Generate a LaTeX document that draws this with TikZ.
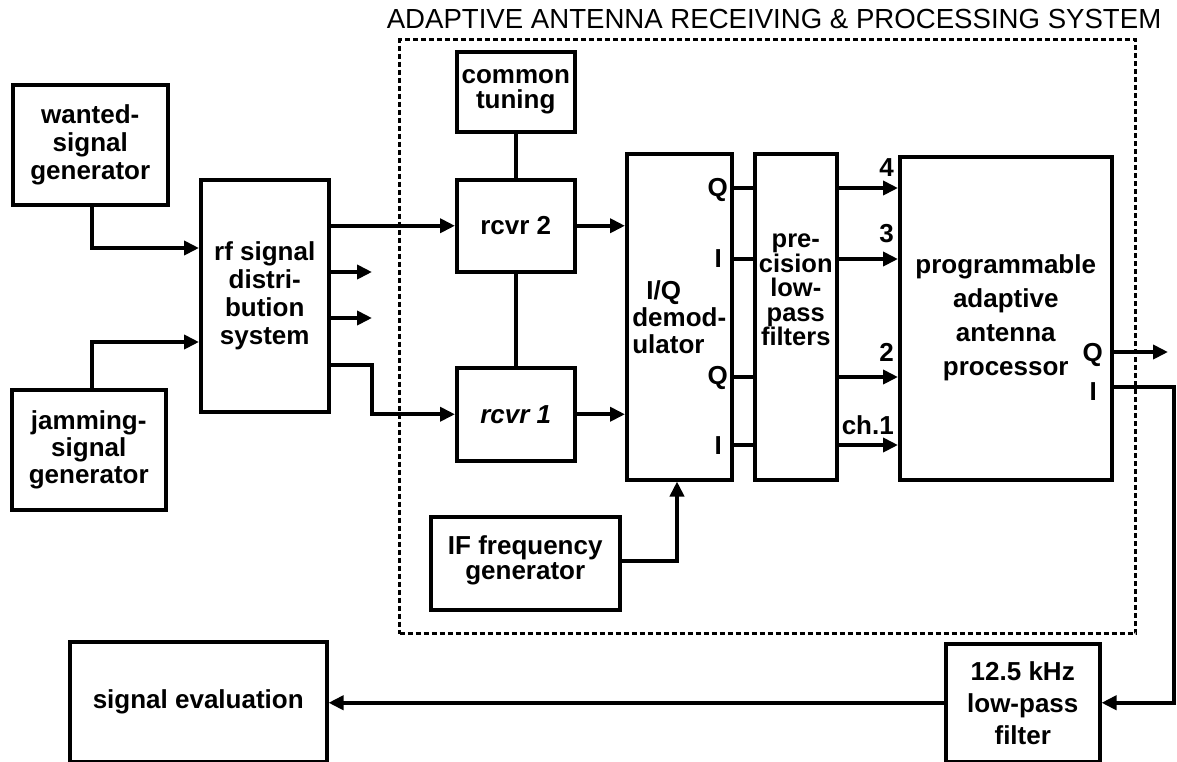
\documentclass[tikz,border=0pt]{standalone}
\usepackage{fontspec}
\setmainfont{Liberation Sans}
\usetikzlibrary{arrows.meta,calc}
\begin{document}
\begin{tikzpicture}[x=1pt,y=-1pt,
  box/.style={draw, line width=3.5pt, anchor=north west, inner sep=0pt, align=center,
              font=\fontsize{26}{28}\selectfont\bfseries},
  conn/.style={line width=4pt},
  arr/.style={conn, -{Triangle[length=15pt,width=14pt]}},
  lbl/.style={inner sep=0pt, font=\fontsize{26}{28}\selectfont\bfseries},
  sysframe/.style={draw, line width=3pt, dash pattern=on 5pt off 3pt, anchor=north west, inner sep=0pt}]
\useasboundingbox (0,0) rectangle (1177,761);

% title and system frame
\node[anchor=base, inner sep=0pt, font=\fontsize{27.6}{30}\selectfont] (title) at (774,28)
  {ADAPTIVE ANTENNA RECEIVING \& PROCESSING SYSTEM};
\node[sysframe, minimum width=736pt, minimum height=594pt] (sys) at (398,38) {};

% boxes
\node[box, minimum width=155pt, minimum height=120pt] (wanted) at (11,83) {wanted-\\signal\\generator};
\node[box, minimum width=154pt, minimum height=120pt, font=\fontsize{26}{27}\selectfont\bfseries] (jamming) at (10,388) {jamming-\\signal\\generator};
\node[box, minimum width=128pt, minimum height=232pt] (rf) at (199,178) {rf signal\\distri-\\bution\\system};
\node[box, minimum width=118pt, minimum height=80pt, font=\fontsize{26}{25}\selectfont\bfseries] (common) at (455,50) {common\\tuning};
\node[box, minimum width=118pt, minimum height=92pt] (rcvr2) at (455,178) {rcvr 2};
\node[box, minimum width=118pt, minimum height=93pt, font=\fontsize{26}{28}\selectfont\bfseries\itshape] (rcvr1) at (455,366) {rcvr 1};
\node[box, minimum width=105pt, minimum height=326pt, align=left, font=\fontsize{26}{27}\selectfont\bfseries] (iq) at (625,152) {\hspace*{14pt}I/Q\\demod-\\ulator};
\node[box, minimum width=82pt, minimum height=326pt, font=\fontsize{25.5}{24.5}\selectfont\bfseries] (filt) at (753,152) {pre-\\cision\\low-\\pass\\filters\rule[-54pt]{0pt}{0pt}};
\node[box, minimum width=212pt, minimum height=323pt, font=\fontsize{26}{34}\selectfont\bfseries] (proc) at (898,155) {programmable\\adaptive\\antenna\\processor};
\node[box, minimum width=189pt, minimum height=93pt, font=\fontsize{26}{25}\selectfont\bfseries] (ifbox) at (429,515) {IF frequency\\generator\rule[-12pt]{0pt}{0pt}};
\node[box, minimum width=154pt, minimum height=118pt, font=\fontsize{26}{32}\selectfont\bfseries] (lp) at (944,642) {12.5 kHz\\low-pass\\filter};
\node[box, minimum width=257pt, minimum height=120pt] (sigeval) at (68,640) {signal evaluation};

% port labels
\node[lbl, anchor=base east] (iqq2) at (728,196) {Q};
\node[lbl, anchor=base east] (iqi2) at (722,267) {I};
\node[lbl, anchor=base east] (iqq1) at (728,384) {Q};
\node[lbl, anchor=base east] (iqi1) at (722,454) {I};
\node[lbl, anchor=base east] (pq) at (1103,361) {Q};
\node[lbl, anchor=base east] (pi) at (1097,400) {I};
\node[lbl, anchor=base east] (ch4) at (894,176) {4};
\node[lbl, anchor=base east] (ch3) at (894,242) {3};
\node[lbl, anchor=base east] (ch2) at (894,361) {2};
\node[lbl, anchor=base east] (ch1) at (894,434) {ch.1};

% helper coordinates
\coordinate (xw) at (92,248);
\coordinate (xj) at (92,342);
\coordinate (s1) at (372,272);
\coordinate (s2) at (372,318);
\coordinate (b1) at (372,365);
\coordinate (c4) at (0,188);
\coordinate (c3) at (0,259);
\coordinate (c2) at (0,377);
\coordinate (c1) at (0,445);
\coordinate (ifc) at (677,561);
\coordinate (qo) at (1168,352);
\coordinate (io) at (1174,387);

% connectors
\draw[arr] (wanted.south -| xw) |- (rf.west |- xw);
\draw[arr] (jamming.north -| xj) |- (rf.west |- xj);
\draw[arr] (rf.east |- rcvr2.west) -- (rcvr2.west);
\draw[arr] (rf.east |- s1) -- (s1);
\draw[arr] (rf.east |- s2) -- (s2);
\draw[arr] (rf.east |- b1) -- (b1) |- (rcvr1.west);
\draw[conn] (common.south) -- (rcvr2.north);
\draw[conn] (rcvr2.south) -- (rcvr1.north);
\draw[arr] (rcvr2.east) -- (rcvr2.east -| iq.west);
\draw[arr] (rcvr1.east) -- (rcvr1.east -| iq.west);
\foreach \c in {c1,c2,c3,c4}{
  \draw[conn] (iq.east |- \c) -- (filt.west |- \c);
  \draw[arr] (filt.east |- \c) -- (proc.west |- \c);
}
\draw[arr] (ifbox.east |- ifc) -| (iq.south -| ifc);
\draw[arr] (proc.east |- qo) -- (qo);
\draw[arr] (proc.east |- io) -- (io) |- (lp.east);
\draw[arr] (lp.west) -- (lp.west -| sigeval.east);
\end{tikzpicture}
\end{document}
